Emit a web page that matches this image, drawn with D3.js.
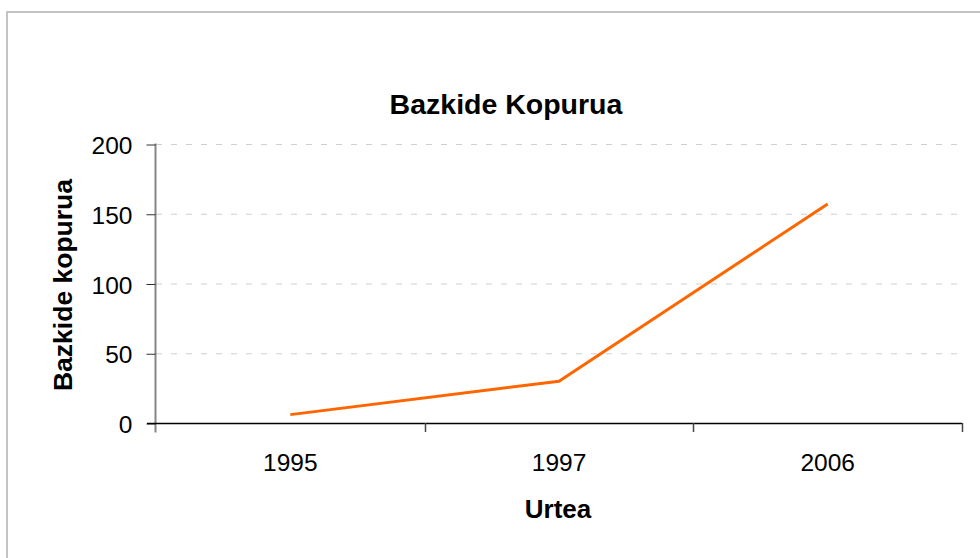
<!DOCTYPE html>
<html>
<head>
<meta charset="utf-8">
<script src="https://cdn.jsdelivr.net/npm/d3@7"></script>
<style>
html,body{margin:0;padding:0;background:#fff;}
svg{display:block;font-family:"Liberation Sans",Arial,sans-serif;}
</style>
</head>
<body>
<svg id="chart" width="980" height="558"></svg>
<script>
const categories = ["1995", "1997", "2006"];
const values = [6, 30, 157];
const yTicks = [0, 50, 100, 150, 200];
const titleText = "Bazkide Kopurua";
const xTitle = "Urtea";
const yTitle = "Bazkide kopurua";

const svg = d3.select("#chart");
const pLeft = 156, pRight = 962, pTop = 144, pBottom = 423;

svg.append("rect").attr("x", 7).attr("y", 12).attr("width", 1000).attr("height", 600)
  .attr("fill", "#fff").attr("stroke", "#c4c4c4").attr("stroke-width", 2);

const x = d3.scaleBand().domain(categories).range([pLeft, pRight]).padding(0);
const y = d3.scaleLinear().domain([0, 200]).range([pBottom, pTop]);

// gridlines
svg.append("g").selectAll("line").data(yTicks.filter(d => d > 0)).join("line")
  .attr("x1", pLeft).attr("x2", pRight)
  .attr("y1", d => y(d) + 0.5).attr("y2", d => y(d) + 0.5)
  .attr("stroke", "#cfcfcf").attr("stroke-width", 1).attr("stroke-dasharray", "6,9");

// y axis
const yAxis = svg.append("g").attr("transform", `translate(${pLeft - 0.5},0.5)`)
  .call(d3.axisLeft(y).tickValues(yTicks).tickSize(9).tickPadding(14));
yAxis.select(".domain").attr("stroke", "#858585").attr("stroke-width", 2)
  .attr("d", `M0,${pTop - 1}V${pBottom + 9}`);
yAxis.selectAll(".tick line").attr("stroke", "#333");
yAxis.selectAll(".tick text").attr("font-size", 24.5).attr("fill", "#000")
  .attr("font-family", "Liberation Sans, Arial, sans-serif").attr("dy", "0.37em");

// x axis
const xAxis = svg.append("g").attr("transform", `translate(0,${pBottom + 0.5})`)
  .call(d3.axisBottom(x).tickSize(0).tickPadding(30));
xAxis.select(".domain").attr("stroke", "#000").attr("stroke-width", 1.5)
  .attr("d", `M${pLeft - 9},0H${pRight}`);
xAxis.selectAll(".tick text").attr("font-size", 24.5).attr("fill", "#000")
  .attr("font-family", "Liberation Sans, Arial, sans-serif");
// category boundary ticks
const bounds = categories.map(c => x(c)).concat([x(categories[categories.length - 1]) + x.bandwidth()]);
svg.append("g").selectAll("line").data(bounds).join("line")
  .attr("x1", d => Math.round(d) + 0.5).attr("x2", d => Math.round(d) + 0.5)
  .attr("y1", pBottom).attr("y2", pBottom + 9)
  .attr("stroke", (d, i) => i === 0 ? "none" : "#444").attr("stroke-width", 1.5);

// line
const line = d3.line().x((d, i) => x(categories[i]) + x.bandwidth() / 2).y(d => y(d));
svg.append("path").datum(values).attr("d", line)
  .attr("fill", "none").attr("stroke", "#FF6600").attr("stroke-width", 3)
  .attr("stroke-linejoin", "round");

// titles
svg.append("text").attr("x", 506).attr("y", 114).attr("text-anchor", "middle")
  .attr("font-size", 28.5).attr("font-weight", "bold").text(titleText);
svg.append("text").attr("x", 558).attr("y", 518).attr("text-anchor", "middle")
  .attr("font-size", 26).attr("font-weight", "bold").text(xTitle);
svg.append("text").attr("transform", "translate(72,285) rotate(-90)").attr("text-anchor", "middle")
  .attr("font-size", 26.5).attr("font-weight", "bold").text(yTitle);
</script>
</body>
</html>
